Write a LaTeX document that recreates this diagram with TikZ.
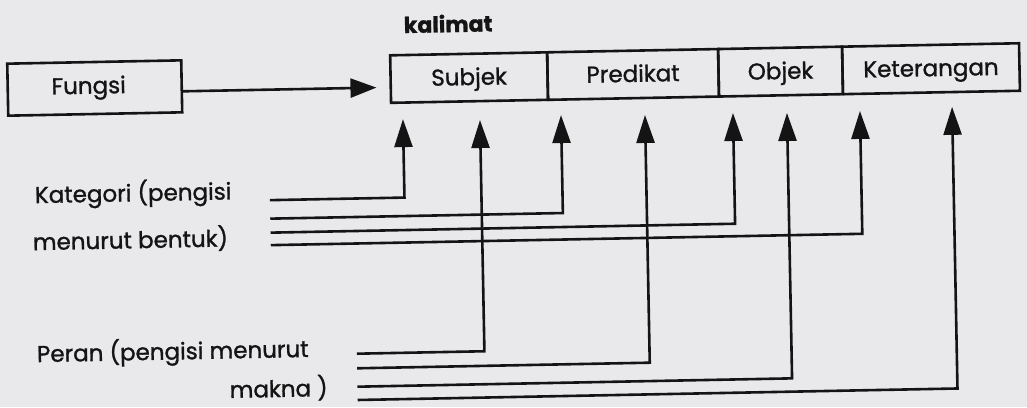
\documentclass[tikz,border=0pt]{standalone}
\usepackage{fontspec}
\setmainfont{Poppins}[FakeBold=1.2]
\usetikzlibrary{arrows.meta}
\definecolor{paper}{HTML}{E9E9EB}
\definecolor{ink}{HTML}{141414}
\begin{document}
\begin{tikzpicture}[x=1pt,y=-1pt,
  inkline/.style={draw=ink, line width=2.6pt},
  lbl/.style={text=ink, inner sep=0pt, anchor=base west, font=\fontsize{23}{27}\selectfont},
  box/.style={inkline, rectangle, inner sep=0pt, text=ink, font=\fontsize{23}{27}\selectfont},
  cell/.style={box, minimum height=47.5pt, text height=17pt, text depth=2pt},
  feed/.style={inkline, -{Triangle[length=28pt,width=18pt]}},
  pointer/.style={inkline, -{Triangle[length=26pt,width=19pt]}}]
% paper and fixed frame
\fill[paper] (0,0) rectangle (1027,407);
\useasboundingbox (0,0) rectangle (1027,407);
\begin{scope}[rotate around={1.1:(513,203)}, transform shape]
  % function box and the sentence table
  \node[box, minimum width=174pt, minimum height=52pt] (fungsi) at (97,80) {Fungsi\hspace*{12pt}};
  \node[cell, minimum width=157pt] (subj) at (471.5,76.75) {Subjek};
  \node[cell, minimum width=171pt] (pred) at (635.5,76.75) {Predikat};
  \node[cell, minimum width=124pt] (obj)  at (783,76.75) {Objek};
  \node[cell, minimum width=177pt] (ket)  at (933.5,76.75) {Keterangan};
  \node[lbl, font=\fontsize{22}{26}\selectfont\bfseries] (kal) at (407,31) {kalimat};
  \draw[pointer, shorten >=13pt] ([yshift=-5pt]fungsi.east) -- ([yshift=-5pt]fungsi.east -| subj.west);
  % left-hand labels
  \node[lbl] (kat1) at (35,194) {Kategori (pengisi};
  \node[lbl] (kat2) at (32,241) {menurut bentuk)};
  \node[lbl] (per1) at (34,353) {Peran (pengisi menurut};
  \node[lbl] (per2) at (226,392.5) {makna )};
  % starts of the feeder lines
  \coordinate (k1) at (270,195.5);
  \coordinate (k2) at (270,214);
  \coordinate (k3) at (270,228);
  \coordinate (k4) at (270,240.5);
  \coordinate (p1) at (354,350.7);
  \coordinate (p2) at (354,365.3);
  \coordinate (p3) at (354,383.7);
  \coordinate (p4) at (354,397);
  % arrow tips under the table
  \coordinate (t1) at (404.6,117);
  \coordinate (t2) at (481.6,119.4);
  \coordinate (t3) at (562.7,116);
  \coordinate (t4) at (646.7,117.5);
  \coordinate (t5) at (734.7,117.2);
  \coordinate (t6) at (788.7,118.2);
  \coordinate (t7) at (861.7,117.6);
  \coordinate (t8) at (953.9,115.3);
  % category feeders
  \draw[feed] (k1) -| (t1);
  \draw[feed] (k2) -| (t3);
  \draw[feed] (k3) -| (t5);
  \draw[feed] (k4) -| (t7);
  % role feeders
  \draw[feed] (p1) -| (t2);
  \draw[feed] (p2) -| (t4);
  \draw[feed] (p3) -| (t6);
  \draw[feed] (p4) -| (t8);
\end{scope}
\end{tikzpicture}
\end{document}
